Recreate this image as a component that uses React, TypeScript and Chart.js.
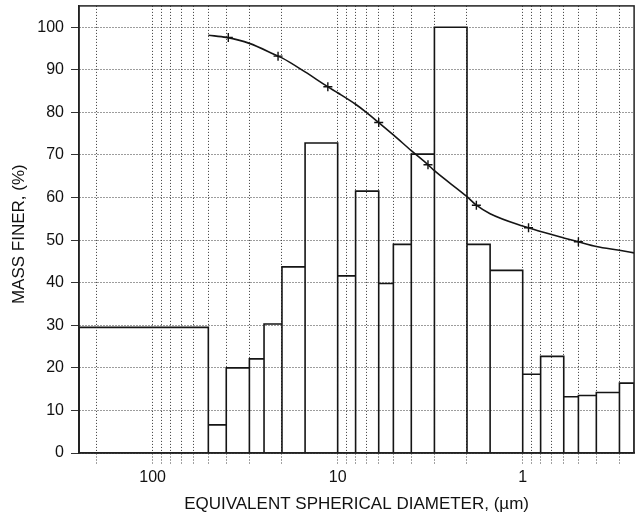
import React, { useEffect, useRef } from 'react';
import { Chart, registerables } from 'chart.js';

Chart.register(...registerables);

// Histogram bins (diameter edges in µm, left to right) and heights (%)
const binEdges = [250, 50, 40, 30, 25, 20, 15, 10, 8, 6, 5, 4, 3, 2, 1.5, 1, 0.8, 0.6, 0.5, 0.4, 0.3, 0.25];
const binHeights = [29.5, 6.6, 20, 22.1, 30.3, 43.7, 72.8, 41.6, 61.5, 39.8, 49, 70.2, 100, 49, 42.9, 18.5, 22.7, 13.2, 13.5, 14.2, 16.4];

// Cumulative mass finer curve
const curveDiameters = [50, 40, 30, 21, 20, 15, 11.3, 10, 8, 7, 6, 5, 4, 3.25, 3, 2, 1.78, 1.5, 1, 0.93, 0.8, 0.6, 0.5, 0.4, 0.3, 0.25];
const curveFiner = [98.1, 97.6, 96.2, 93.2, 92.8, 89.5, 86.0, 84.6, 81.9, 80.0, 77.6, 74.7, 71.0, 67.7, 66.3, 60.2, 58.2, 56.2, 53.3, 52.9, 52.0, 50.5, 49.6, 48.5, 47.6, 47.0];

// Measured points (+ markers)
const markerDiameters = [39, 21, 11.3, 6, 3.25, 1.78, 0.93, 0.5];
const markerFiner = [97.6, 93.2, 86.0, 77.6, 67.7, 58.2, 52.9, 49.6];

// Axis ticks
const xGridValues = [200, 100, 90, 80, 70, 60, 50, 40, 30, 20, 10, 9, 8, 7, 6, 5, 4, 3, 2, 1, 0.9, 0.8, 0.7, 0.6, 0.5, 0.4, 0.3];
const xLabelValues = [100, 10, 1];
const yTickValues = [0, 10, 20, 30, 40, 50, 60, 70, 80, 90, 100];

const FONT = "'Liberation Sans', Arial, Helvetica, sans-serif";

export default function App() {
  const ref = useRef<HTMLCanvasElement | null>(null);

  useEffect(() => {
    if (!ref.current) return;
    const histPoints: { x: number; y: number }[] = [];
    for (let i = 0; i < binHeights.length; i++) {
      const a = binEdges[i];
      const b = binEdges[i + 1];
      const h = binHeights[i];
      histPoints.push({ x: a, y: 0 }, { x: a, y: h }, { x: b, y: h }, { x: b, y: 0 });
    }
    const curvePoints = curveDiameters.map((d, i) => ({ x: d, y: curveFiner[i] }));
    const markerPoints = markerDiameters.map((d, i) => ({ x: d, y: markerFiner[i] }));

    const frame = {
      id: 'frame',
      afterDatasetsDraw(chart: any) {
        const { ctx, chartArea } = chart;
        ctx.save();
        ctx.strokeStyle = '#222';
        ctx.lineWidth = 1.5;
        ctx.strokeRect(chartArea.left, chartArea.top, chartArea.right - chartArea.left, chartArea.bottom - chartArea.top);
        ctx.restore();
      },
    };

    const chart = new Chart(ref.current, {
      type: 'line',
      data: {
        datasets: [
          {
            label: 'histogram',
            data: histPoints,
            borderColor: '#151515',
            borderWidth: 1.6,
            pointRadius: 0,
            tension: 0,
            fill: false,
          },
          {
            label: 'curve',
            data: curvePoints,
            borderColor: '#151515',
            borderWidth: 1.6,
            pointRadius: 0,
            cubicInterpolationMode: 'monotone',
            fill: false,
          },
          {
            label: 'points',
            data: markerPoints,
            showLine: false,
            pointStyle: 'cross',
            pointRadius: 4.5,
            pointBorderWidth: 1.4,
            pointBorderColor: '#111',
            borderColor: '#111',
          },
        ],
      },
      options: {
        animation: false,
        responsive: false,
        devicePixelRatio: 1,
        layout: { padding: { top: 5, right: 4, left: 0, bottom: 0 } },
        plugins: {
          legend: { display: false },
          tooltip: { enabled: false },
        },
        scales: {
          x: {
            type: 'logarithmic',
            reverse: true,
            min: 0.25,
            max: 250,
            afterBuildTicks: (scale: any) => {
              scale.ticks = xGridValues.map((v) => ({ value: v }));
            },
            afterFit: (scale: any) => {
              scale.height = 65;
              scale.paddingLeft = 0;
              scale.paddingRight = 0;
            },
            ticks: {
              autoSkip: false,
              maxRotation: 0,
              minRotation: 0,
              padding: 4,
              color: '#111',
              font: { family: FONT, size: 16 },
              callback: (value: any) => (xLabelValues.includes(Number(value)) ? String(value) : ''),
            },
            grid: {
              color: '#3a3a3a',
              lineWidth: 1,
              tickLength: 11,
              tickColor: '#444',
              tickBorderDash: [1, 2],
            },
            border: { display: true, color: '#222', width: 1.5, dash: [1, 2] },
            title: {
              display: true,
              text: 'EQUIVALENT SPHERICAL DIAMETER, (\u00b5m)',
              color: '#111',
              font: { family: FONT, size: 17 },
              padding: { top: 0, bottom: 3 },
            },
          },
          y: {
            type: 'linear',
            min: 0,
            max: 105,
            afterBuildTicks: (scale: any) => {
              scale.ticks = yTickValues.map((v) => ({ value: v }));
            },
            afterFit: (scale: any) => {
              scale.width = 79;
              scale.paddingTop = 0;
              scale.paddingBottom = 0;
            },
            ticks: {
              padding: 7,
              color: '#111',
              font: { family: FONT, size: 16 },
              callback: (value: any) => String(value),
            },
            grid: {
              color: '#3a3a3a',
              lineWidth: 1,
              tickLength: 8,
              tickColor: '#333',
            },
            border: { display: true, color: '#222', width: 1.5, dash: [1, 2] },
            title: {
              display: true,
              text: 'MASS FINER, (%)  ',
              color: '#111',
              font: { family: FONT, size: 17 },
              padding: { top: 9, bottom: 0 },
            },
          },
        },
      },
      plugins: [frame],
    } as any);

    return () => chart.destroy();
  }, []);

  return (
    <div style={{ position: 'fixed', left: 0, top: 0, width: 640, height: 518, background: '#fff' }}>
      <canvas ref={ref} width={640} height={518} style={{ display: 'block' }} />
    </div>
  );
}
